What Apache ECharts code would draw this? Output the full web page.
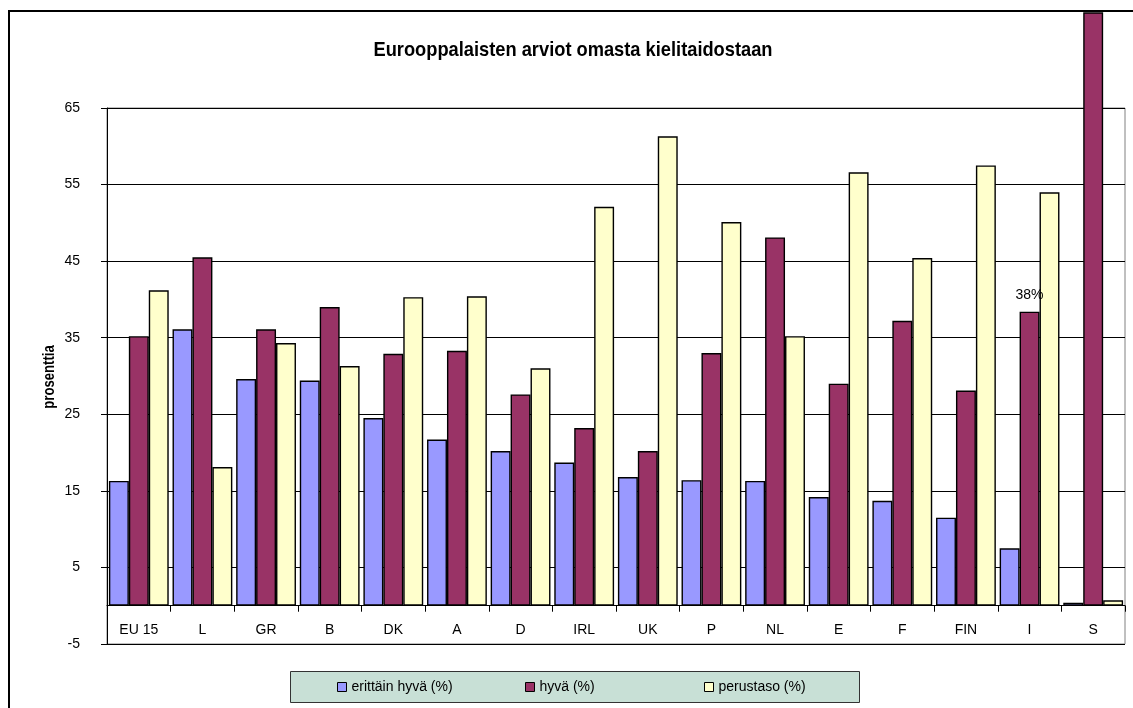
<!DOCTYPE html>
<html>
<head>
<meta charset="utf-8">
<script src="https://cdn.jsdelivr.net/npm/echarts@6/dist/echarts.min.js"></script>
<style>
html,body{margin:0;padding:0;background:#fff;}
#chart{width:1133px;height:708px;}
</style>
</head>
<body>
<div id="chart"></div>
<script>
const categories = ['EU 15','L','GR','B','DK','A','D','IRL','UK','P','NL','E','F','FIN','I','S'];
const seriesNames = ['erittäin hyvä (%)','hyvä (%)','perustaso (%)'];
const erittainHyva = [16.3,36.1,29.6,29.4,24.5,21.7,20.2,18.7,16.8,16.4,16.3,14.2,13.7,11.5,7.5,0.4];
const hyva = [35.2,45.5,36.1,39.0,32.9,33.3,27.6,23.2,20.2,33.0,48.1,29.0,37.2,28.1,38.4,77.5];
const perustaso = [41.2,18.1,34.3,31.3,40.3,40.4,31.0,52.1,61.3,50.1,35.2,56.6,45.4,57.5,54.0,0.7];
const yTicks = [-5,5,15,25,35,45,55,65];
const labelledIndex = 14; // "I" hyvä bar carries the 38% label
const titleText = 'Eurooppalaisten arviot omasta kielitaidostaan';
const yName = 'prosenttia';
const colors = ['#9999ff','#993366','#ffffcc'];

const FONT = "'Liberation Sans',Arial,sans-serif";

const chart = echarts.init(document.getElementById('chart'), null, {renderer:'canvas'});

const hyvaData = hyva.map((v,i)=> i===labelledIndex ? {
  value: v,
  label: {show:true, position:'top', distance:10, color:'#000', fontSize:14, fontFamily:FONT,
          formatter: p => Math.round(p.value) + '%'}
} : v);

const barBase = {
  type:'bar',
  barGap:'0%',
  barCategoryGap:'6%',
  itemStyle:{borderColor:'#000', borderWidth:1.4},
  emphasis:{disabled:true},
  animation:false
};

const legendBase = {
  top: 679, padding: 0, itemWidth: 9, itemHeight: 9, icon: 'rect',
  itemStyle:{borderColor:'#000', borderWidth:1},
  textStyle:{fontSize:14, fontFamily:FONT, color:'#000', lineHeight:16},
  selectedMode:false
};

chart.setOption({
  backgroundColor:'#fff',
  animation:false,
  textStyle:{fontFamily:FONT},
  color: colors,
  grid:{left:107, right:8, top:108, bottom:64, show:true, borderColor:'#808080', borderWidth:1, backgroundColor:'transparent'},
  legend:[
    Object.assign({}, legendBase, {left:337, data:[seriesNames[0]]}),
    Object.assign({}, legendBase, {left:525, data:[seriesNames[1]]}),
    Object.assign({}, legendBase, {left:704, data:[seriesNames[2]]})
  ],
  xAxis:{
    type:'category',
    data:categories,
    boundaryGap:true,
    axisLine:{show:true, onZero:true, lineStyle:{color:'#000', width:1}},
    axisTick:{show:true, length:6, lineStyle:{color:'#000'}},
    axisLabel:{color:'#000', fontSize:14, fontFamily:FONT, margin:-21, interval:0},
    splitLine:{show:false}
  },
  yAxis:{
    type:'value',
    min:-5, max:65,
    axisLine:{show:true, lineStyle:{color:'#000', width:1}},
    axisTick:{show:true, length:6, customValues:yTicks, lineStyle:{color:'#000'}},
    axisLabel:{color:'#000', fontSize:14, fontFamily:FONT, margin:27, customValues:yTicks},
    splitLine:{show:true, lineStyle:{color:'#000', width:1}}
  },
  series:[
    Object.assign({}, barBase, {name:seriesNames[0], data:erittainHyva}),
    Object.assign({}, barBase, {name:seriesNames[1], data:hyvaData, clip:false}),
    Object.assign({}, barBase, {name:seriesNames[2], data:perustaso})
  ],
  graphic:[
    {type:'rect', z:0, silent:true, shape:{x:290.5, y:671.5, width:569, height:31},
     style:{fill:'#c8e0d6', stroke:'#333', lineWidth:1}},
    {type:'text', z:50, silent:true, x:573, y:50, scaleX:0.87,
     style:{text:titleText, font:"bold 21px " + FONT, fill:'#000', textAlign:'center', textVerticalAlign:'middle'}},
    {type:'text', z:50, silent:true, x:50, y:377, rotation:Math.PI/2, scaleX:0.82,
     style:{text:yName, font:"bold 16px " + FONT, fill:'#000', textAlign:'center', textVerticalAlign:'middle'}},
    {type:'rect', z:100, silent:true, shape:{x:9, y:11, width:1200, height:800},
     style:{fill:'none', stroke:'#000', lineWidth:2}}
  ]
});
</script>
</body>
</html>
